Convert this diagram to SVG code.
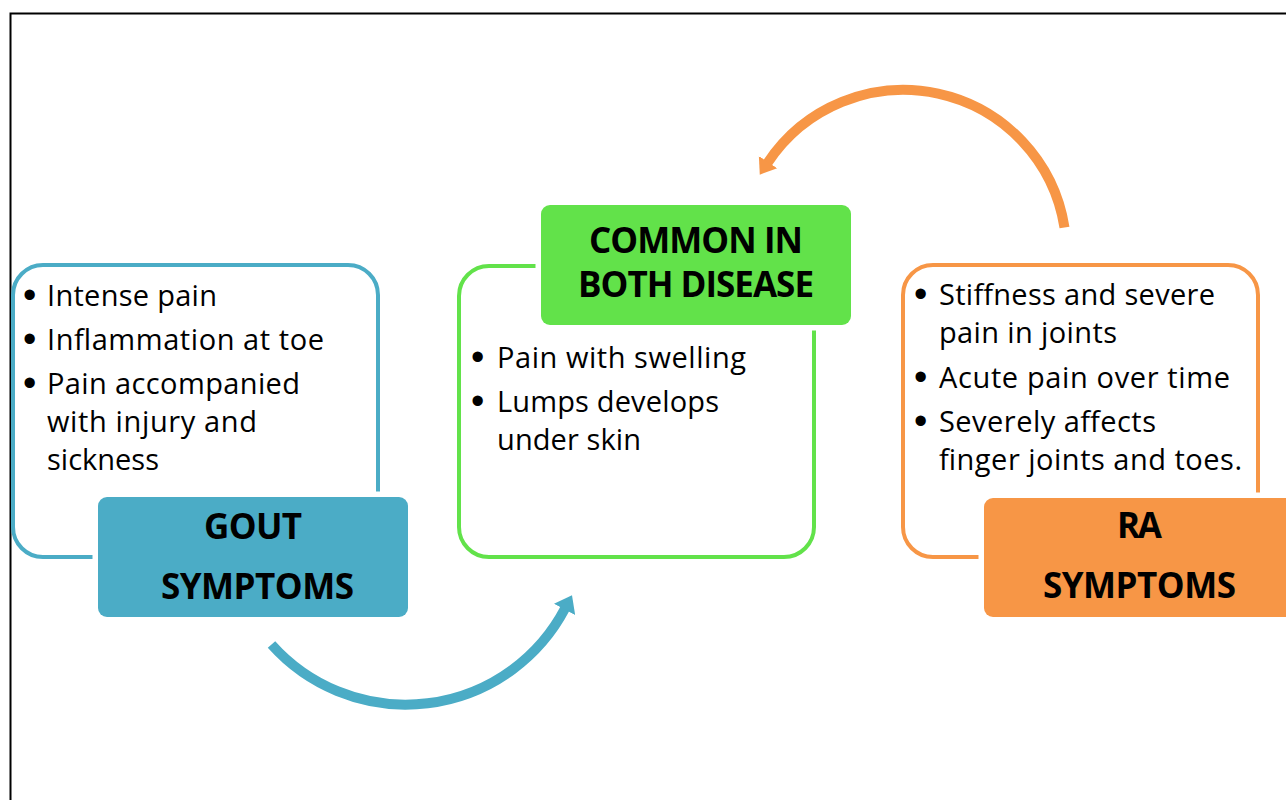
<svg xmlns="http://www.w3.org/2000/svg" width="1286" height="800" viewBox="0 0 1286 800">
<style>
.bg{fill:#ffffff}
.frame{fill:none;stroke:#000000;stroke-width:2}
.out{fill:none;stroke-width:4}
.tag{stroke:#ffffff;stroke-width:11;paint-order:stroke}
.txt{font-family:"Open Sans","Noto Sans","Liberation Sans",sans-serif;font-size:29px;fill:#000000}
.bul{font-family:"Liberation Sans","DejaVu Sans",sans-serif;font-size:38px;fill:#000000}
.ttl{font-family:"Open Sans","Noto Sans","Liberation Sans",sans-serif;font-size:35px;font-weight:bold;fill:#000000}
.blue{stroke:#4BACC6}
.green{stroke:#62E24A}
.orange{stroke:#F79646}
.arc{fill:none;stroke-width:10;stroke-linecap:butt}
</style>
<defs>
<marker id="headBlue" markerUnits="userSpaceOnUse" viewBox="0 -12 16 24" refX="1" refY="0" markerWidth="16" markerHeight="24" orient="auto">
<path d="M0,-12 L16,0 L0,12 Z" fill="#4BACC6"/>
</marker>
<marker id="headOrange" markerUnits="userSpaceOnUse" viewBox="0 -12 16 24" refX="1" refY="0" markerWidth="16" markerHeight="24" orient="auto">
<path d="M0,-11 L15,0 L0,11 Z" fill="#F79646"/>
</marker>
</defs>
<rect class="bg" x="0" y="0" width="1286" height="800"/>
<rect class="frame" x="10.5" y="13.5" width="1300" height="820"/>

<g id="connectors">
<path class="arc blue" d="M271.5,644.5 A180,180 0 0 0 565,608.5" marker-end="url(#headBlue)"/>
<path class="arc orange" d="M1064.5,227.5 A163,163 0 0 0 767.5,163" stroke-width="9" marker-end="url(#headOrange)"/>
</g>

<g id="gout">
<rect class="out blue" x="13" y="265" width="365" height="292" rx="30"/>
<rect class="tag" x="98" y="497" width="310" height="120" rx="9" fill="#4BACC6"/>
<text class="ttl" x="204" y="539" textLength="98">GOUT</text>
<text class="ttl" x="161" y="599" textLength="193">SYMPTOMS</text>
<text class="bul" x="23" y="308">•</text>
<text class="txt" x="47" y="306" textLength="170">Intense pain</text>
<text class="bul" x="23" y="352">•</text>
<text class="txt" x="47" y="350" textLength="277">Inflammation at toe</text>
<text class="bul" x="23" y="396">•</text>
<text class="txt" x="47" y="394" textLength="253">Pain accompanied</text>
<text class="txt" x="47" y="432" textLength="210">with injury and</text>
<text class="txt" x="47" y="470" textLength="112">sickness</text>
</g>

<g id="common">
<rect class="out green" x="459" y="266" width="355" height="291" rx="30"/>
<rect class="tag" x="541" y="205" width="310" height="120" rx="9" fill="#62E24A"/>
<text class="ttl" x="589" y="253" textLength="214">COMMON IN</text>
<text class="ttl" x="578" y="297" textLength="236">BOTH DISEASE</text>
<text class="bul" x="471" y="370">•</text>
<text class="txt" x="497" y="368" textLength="249">Pain with swelling</text>
<text class="bul" x="471" y="414">•</text>
<text class="txt" x="497" y="412" textLength="222">Lumps develops</text>
<text class="txt" x="497" y="450" textLength="144">under skin</text>
</g>

<g id="ra">
<rect class="out orange" x="903" y="265" width="355" height="292" rx="30"/>
<rect class="tag" x="984" y="498" width="310" height="119" rx="9" fill="#F79646"/>
<text class="ttl" x="1117" y="538" textLength="45">RA</text>
<text class="ttl" x="1043" y="598" textLength="193">SYMPTOMS</text>
<text class="bul" x="914" y="307">•</text>
<text class="txt" x="939" y="305" textLength="276">Stiffness and severe</text>
<text class="txt" x="939" y="343" textLength="178">pain in joints</text>
<text class="bul" x="914" y="390">•</text>
<text class="txt" x="939" y="388" textLength="291">Acute pain over time</text>
<text class="bul" x="914" y="434">•</text>
<text class="txt" x="939" y="432" textLength="217">Severely affects</text>
<text class="txt" x="939" y="470" textLength="303">finger joints and toes.</text>
</g>
</svg>
